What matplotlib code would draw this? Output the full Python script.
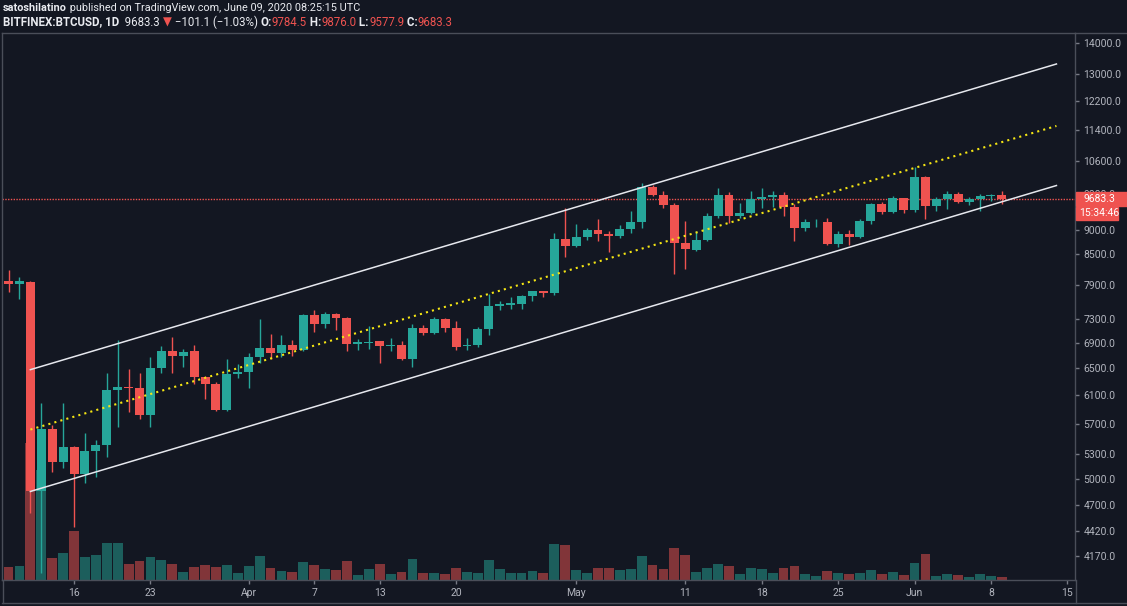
import numpy as np
import pandas as pd
import matplotlib
matplotlib.use('Agg')
import matplotlib.pyplot as plt
import matplotlib.dates as mdates
from matplotlib.ticker import FixedLocator, NullLocator, FuncFormatter, NullFormatter
from matplotlib.patches import Rectangle
from matplotlib.lines import Line2D

plt.rcParams['font.family'] = ['Roboto', 'DejaVu Sans']

# --- data: BITFINEX:BTCUSD daily candles, 10 Mar - 9 Jun 2020 ---
dates = pd.date_range('2020-03-10', '2020-06-09', freq='D')

opens = [7985, 7930, 7960, 4857, 5628, 5205, 5394, 5058, 5345, 5420,
         6178, 6220, 6195, 5822, 6500, 6760, 6680, 6760, 6370, 6260,
         5880, 6410, 6440, 6670, 6810, 6740, 6870, 6780, 7360, 7220,
         7380, 7310, 6880, 6890, 6930, 6850, 6870, 6640, 7140, 7060,
         7290, 7150, 6840, 6860, 7130, 7520, 7540, 7560, 7700, 7790,
         7760, 8820, 8680, 8860, 9010, 8920, 8880, 9030, 9180, 9970,
         9790, 9540, 8730, 8590, 8800, 9313, 9790, 9313, 9380, 9690,
         9730, 9770, 9500, 9050, 9170, 9180, 8710, 8920, 8850, 9206,
         9580, 9400, 9710, 9440, 10210, 9530, 9680, 9800, 9620, 9680,
         9760, 9784.5]
highs = [8200, 8050, 7990, 5985, 5680, 5985, 5410, 5572, 5480, 6430,
         6950, 6490, 6430, 6670, 6850, 6990, 6800, 6860, 6380, 6290,
         6640, 6560, 6740, 7300, 7050, 7020, 6940, 7380, 7460, 7420,
         7400, 7330, 6960, 7180, 6930, 6980, 6930, 7220, 7200, 7330,
         7310, 7260, 6970, 7160, 7750, 7620, 7680, 7720, 7800, 7800,
         8950, 9490, 9130, 9040, 9250, 8980, 9120, 9420, 10050, 10010,
         9880, 9590, 9200, 8980, 9380, 9950, 9850, 9590, 9880, 9950,
         9880, 9860, 9580, 9230, 9250, 9260, 8980, 9000, 9230, 9600,
         9630, 9750, 9720, 10450, 10230, 9730, 9880, 9850, 9730, 9800,
         9800, 9876.0]
lows = [7780, 7650, 4620, 4007, 5080, 5130, 4468, 4952, 5020, 5265,
        5650, 5860, 5760, 5660, 6420, 6430, 6520, 6260, 6040, 5870,
        5870, 6350, 6200, 6580, 6640, 6670, 6690, 6760, 7080, 7140,
        7110, 6760, 6780, 6800, 6580, 6760, 6620, 6510, 7030, 7040,
        7070, 6780, 6790, 6830, 7020, 7460, 7470, 7480, 7620, 7680,
        7720, 8450, 8650, 8800, 8780, 8540, 8840, 8950, 9050, 9750,
        9480, 8120, 8220, 8560, 8780, 9260, 9150, 9270, 9350, 9490,
        9500, 9300, 8780, 8990, 9060, 8690, 8640, 8700, 8840, 9130,
        9340, 9370, 9370, 9400, 9230, 9420, 9470, 9600, 9560, 9420,
        9650, 9577.9]
closes = [7930, 7985, 4857, 5628, 5205, 5394, 5058, 5345, 5420, 6178,
          6220, 6195, 5822, 6500, 6760, 6680, 6750, 6370, 6260, 5880,
          6410, 6440, 6670, 6810, 6740, 6870, 6780, 7360, 7220, 7380,
          7310, 6880, 6910, 6920, 6850, 6870, 6640, 7140, 7060, 7290,
          7150, 6830, 6860, 7130, 7520, 7560, 7570, 7700, 7790, 7760,
          8820, 8680, 8860, 9010, 8920, 8880, 9030, 9180, 9970, 9790,
          9540, 8730, 8600, 8800, 9313, 9790, 9313, 9380, 9680, 9730,
          9770, 9500, 9050, 9170, 9180, 8710, 8920, 8850, 9206, 9580,
          9400, 9710, 9440, 10210, 9530, 9680, 9800, 9620, 9680, 9760,
          9790, 9683.3]
volume = [38, 42, 411, 330, 67, 80, 147, 70, 75, 110,
          110, 48, 58, 70, 60, 48, 25, 38, 44, 40,
          45, 22, 42, 71, 36, 28, 23, 53, 44, 32,
          29, 58, 16, 32, 47, 18, 24, 64, 20, 20,
          19, 36, 25, 20, 59, 32, 20, 22, 26, 22,
          107, 106, 30, 20, 37, 35, 29, 33, 72, 46,
          32, 95, 75, 23, 37, 47, 42, 17, 37, 34,
          22, 35, 42, 17, 12, 26, 22, 18, 22, 29,
          17, 24, 15, 50, 77, 12, 18, 15, 9, 19,
          11, 8]

# drawn trend channel (start / end date and price)
chan_dates = ['2020-03-12', '2020-06-14']
chan_upper = [6475, 13323]
chan_mid = [5621, 11510]
chan_lower = [4857, 10000]
last_price = 9683.3

price_ticks = [4170, 4420, 4700, 5000, 5300, 5700, 6100, 6500, 6900, 7300,
               7900, 8500, 9000, 9800, 10600, 11400, 12200, 13000, 14000]
date_ticks = ['2020-03-16', '2020-03-23', '2020-04-01', '2020-04-07', '2020-04-13',
              '2020-04-20', '2020-05-01', '2020-05-11', '2020-05-18', '2020-05-25',
              '2020-06-01', '2020-06-08', '2020-06-15']
date_labels = ['16', '23', 'Apr', '7', '13', '20', 'May', '11', '18', '25', 'Jun', '8', '15']

# --- style ---
BG = '#131722'
UP, DOWN = '#26a69a', '#ef5350'
UP_VOL, DOWN_VOL = '#1c5e5c', '#813539'
GRID = '#4a4e59'
TXT = '#b2b5be'
W, H = 1127, 606

def fx(px):
    return px / W

def fy(py):
    return 1 - py / H

fig = plt.figure(figsize=(W / 100, H / 100), dpi=100, facecolor=BG)
rect = [fx(2), fy(580), (1075 - 2) / W, (580 - 33) / H]

x = mdates.date2num(dates)
o, h, l, c = map(np.array, (opens, highs, lows, closes))
up = c >= o

# volume panel underneath the candles
axv = fig.add_axes(rect)
axv.set_facecolor(BG)
axv.bar(x, volume, width=0.9, color=np.where(up, UP_VOL, DOWN_VOL), linewidth=0)
axv.set_ylim(0, 547 * 3)
axv.set_xlim(x[0] - 0.6, x[0] + 97.7)
axv.axis('off')

ax = fig.add_axes(rect)
ax.patch.set_visible(False)
ax.set_yscale('log')
ax.set_ylim(3941, 14334)
ax.set_xlim(x[0] - 0.6, x[0] + 97.7)

cols = np.where(up, UP, DOWN)
ax.vlines(x, l, h, colors=cols, linewidth=1, zorder=3)
body = np.maximum(np.abs(c - o), 12)
ax.bar(x, body, bottom=np.minimum(o, c), width=0.82, color=cols, linewidth=0, zorder=4)

cx = mdates.date2num(pd.to_datetime(chan_dates))
ax.plot(cx, chan_upper, color='#e6e8ee', lw=1.1, zorder=5)
ax.plot(cx, chan_lower, color='#e6e8ee', lw=1.1, zorder=5)
ax.plot(cx, chan_mid, color='#f5e614', lw=1.5, ls=(0, (1, 2)), zorder=5)
ax.axhline(last_price, color=DOWN, lw=1, ls=(0, (1, 1)), zorder=2)

# axes
ax.yaxis.tick_right()
ax.yaxis.set_major_locator(FixedLocator(price_ticks))
ax.yaxis.set_minor_locator(NullLocator())
ax.yaxis.set_major_formatter(FuncFormatter(lambda v, p: f'{v:.1f}'))
ax.yaxis.set_minor_formatter(NullFormatter())
ax.set_xticks(mdates.date2num(pd.to_datetime(date_ticks)), date_labels)
ax.tick_params(axis='y', which='major', length=3, width=1, pad=3, color='#787b86',
               labelcolor=TXT, labelsize=7.5)
ax.tick_params(axis='x', which='major', length=3, width=1, pad=3, color='#787b86',
               labelcolor=TXT, labelsize=7.5)
for s in ax.spines.values():
    s.set_color(GRID)
    s.set_linewidth(1)

# outer frame below the time axis
fig.add_artist(Line2D([fx(1075.5), fx(1075.5)], [fy(580), fy(603)], color=GRID, lw=1))
fig.add_artist(Line2D([fx(2), fx(1127)], [fy(603), fy(603)], color=GRID, lw=1))
fig.add_artist(Line2D([fx(2.5), fx(2.5)], [fy(580), fy(603)], color=GRID, lw=1))
fig.add_artist(Line2D([fx(1075), fx(1127)], [fy(33), fy(33)], color=GRID, lw=1))

# last price labels on the scale
fig.add_artist(Rectangle((fx(1076), fy(206)), 51 / W, 14 / H, color=DOWN,
                         transform=fig.transFigure, zorder=5))
fig.text(fx(1083), fy(199), f'{last_price:.1f}', color='white', fontsize=7.5,
         va='center', ha='left', zorder=6)
fig.add_artist(Rectangle((fx(1076), fy(220)), 42 / W, 13 / H, color=DOWN,
                         transform=fig.transFigure, zorder=5))
fig.text(fx(1079), fy(213.5), '15:34:46', color='white', fontsize=7.5,
         va='center', ha='left', zorder=6)

# header lines with mixed styles
WHITE = '#e9ebf0'
rend = fig.canvas.get_renderer()

def header(py, parts, size):
    px = 3
    for s, bold, col in parts:
        t = fig.text(fx(px), fy(py), s, fontsize=size, color=col, va='center', ha='left',
                     fontweight='bold' if bold else 'normal')
        px = t.get_window_extent(rend).x1

header(8, [('satoshilatino', True, WHITE),
           (' published on TradingView.com, June 09, 2020 08:25:15 UTC', False, WHITE)], 7.8)
header(22, [('BITFINEX:BTCUSD, 1D', True, WHITE),
            ('  9683.3 ', False, WHITE), ('\u25bc', False, DOWN),
            (' \u2212101.1 (\u22121.03%) ', False, WHITE),
            ('O:', True, WHITE), ('9784.5', False, DOWN),
            (' H:', True, WHITE), ('9876.0', False, DOWN),
            (' L:', True, WHITE), ('9577.9', False, DOWN),
            (' C:', True, WHITE), ('9683.3', False, DOWN)], 8.3)

fig.savefig('out.png', dpi=100, facecolor=BG)
